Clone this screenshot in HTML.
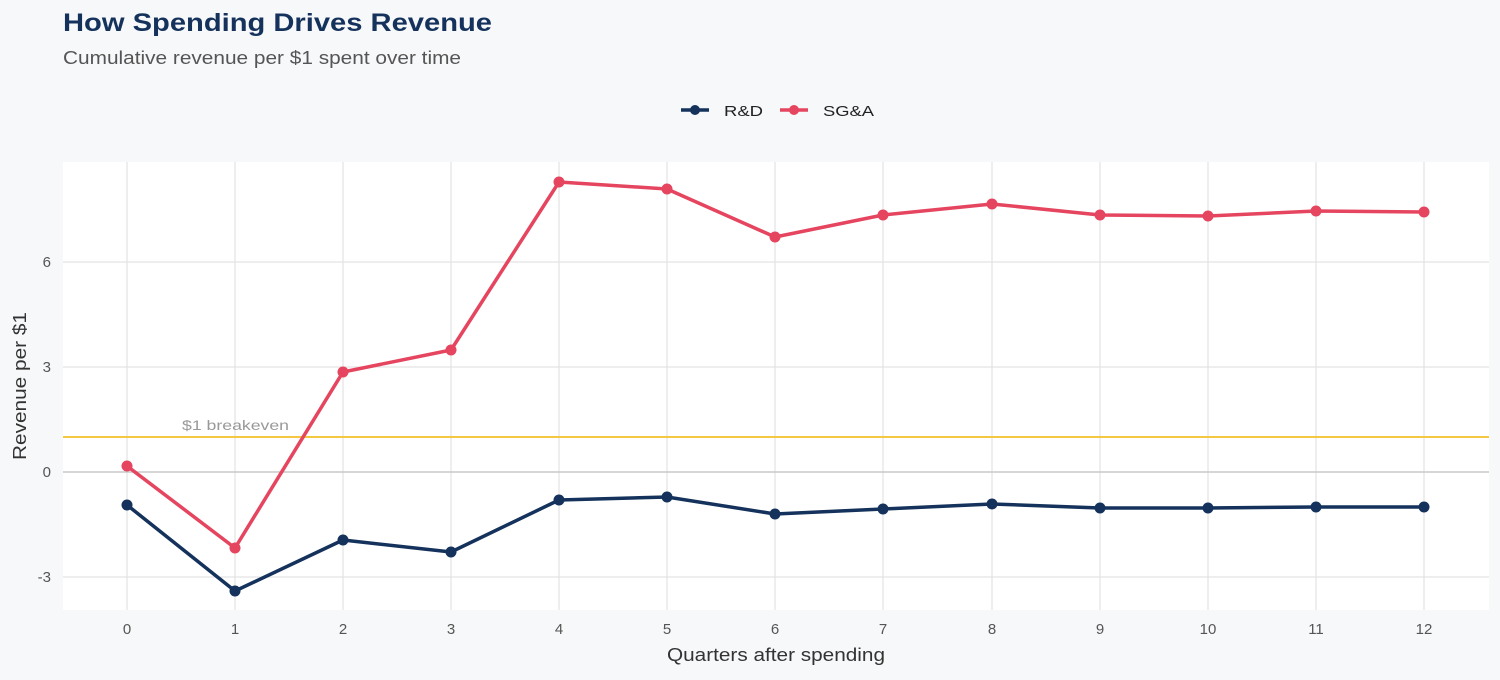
<!DOCTYPE html>
<html><head><meta charset="utf-8"><style>
body{margin:0;background:#f7f8fa;width:1500px;height:675px;overflow:hidden;font-family:"Liberation Sans",sans-serif}
</style></head><body>
<svg width="1500" height="675" xmlns="http://www.w3.org/2000/svg" font-family="Liberation Sans, sans-serif">
<rect width="1500" height="675" fill="#f7f8fa"/>
<text x="63" y="31" font-size="25" font-weight="bold" fill="#14325c" textLength="429" lengthAdjust="spacingAndGlyphs">How Spending Drives Revenue</text>
<text x="63" y="64" font-size="18" fill="#555" textLength="398" lengthAdjust="spacingAndGlyphs">Cumulative revenue per $1 spent over time</text>
<line x1="681" y1="110" x2="709" y2="110" stroke="#14325c" stroke-width="3.5"/><circle cx="695" cy="110" r="5" fill="#14325c"/>
<text x="724" y="116" font-size="15" fill="#222" textLength="39" lengthAdjust="spacingAndGlyphs">R&amp;D</text>
<line x1="780" y1="110" x2="808" y2="110" stroke="#e5455f" stroke-width="3.5"/><circle cx="794" cy="110" r="5" fill="#e5455f"/>
<text x="823" y="116" font-size="15" fill="#222" textLength="51" lengthAdjust="spacingAndGlyphs">SG&amp;A</text>
<rect x="63" y="162" width="1426" height="448" fill="#fff"/>
<g stroke="#e3e3e3" stroke-width="1.2">
<line x1="63" x2="1489" y1="262" y2="262"/><line x1="63" x2="1489" y1="367" y2="367"/><line x1="63" x2="1489" y1="577" y2="577"/>
<line x1="127" x2="127" y1="162" y2="610"/><line x1="235" x2="235" y1="162" y2="610"/><line x1="343" x2="343" y1="162" y2="610"/><line x1="451" x2="451" y1="162" y2="610"/><line x1="559" x2="559" y1="162" y2="610"/><line x1="667" x2="667" y1="162" y2="610"/><line x1="775" x2="775" y1="162" y2="610"/><line x1="883" x2="883" y1="162" y2="610"/><line x1="992" x2="992" y1="162" y2="610"/><line x1="1100" x2="1100" y1="162" y2="610"/><line x1="1208" x2="1208" y1="162" y2="610"/><line x1="1316" x2="1316" y1="162" y2="610"/><line x1="1424" x2="1424" y1="162" y2="610"/>
</g>
<line x1="63" x2="1489" y1="472" y2="472" stroke="#c8c8c8" stroke-width="1.5"/>
<line x1="63" x2="1489" y1="437" y2="437" stroke="#f5c842" stroke-width="2"/>
<text x="182" y="430" font-size="14" fill="#999" textLength="107" lengthAdjust="spacingAndGlyphs">$1 breakeven</text>
<polyline fill="none" stroke="#14325c" stroke-width="3.5" stroke-linejoin="round" points="127,505 235,591 343,540 451,552 559,500 667,497 775,514 883,509 992,504 1100,508 1208,508 1316,507 1424,507"/>
<g fill="#14325c"><circle cx="127" cy="505" r="5.5"/><circle cx="235" cy="591" r="5.5"/><circle cx="343" cy="540" r="5.5"/><circle cx="451" cy="552" r="5.5"/><circle cx="559" cy="500" r="5.5"/><circle cx="667" cy="497" r="5.5"/><circle cx="775" cy="514" r="5.5"/><circle cx="883" cy="509" r="5.5"/><circle cx="992" cy="504" r="5.5"/><circle cx="1100" cy="508" r="5.5"/><circle cx="1208" cy="508" r="5.5"/><circle cx="1316" cy="507" r="5.5"/><circle cx="1424" cy="507" r="5.5"/></g>
<polyline fill="none" stroke="#e5455f" stroke-width="3.5" stroke-linejoin="round" points="127,466 235,548 343,372 451,350 559,182 667,189 775,237 883,215 992,204 1100,215 1208,216 1316,211 1424,212"/>
<g fill="#e5455f"><circle cx="127" cy="466" r="5.5"/><circle cx="235" cy="548" r="5.5"/><circle cx="343" cy="372" r="5.5"/><circle cx="451" cy="350" r="5.5"/><circle cx="559" cy="182" r="5.5"/><circle cx="667" cy="189" r="5.5"/><circle cx="775" cy="237" r="5.5"/><circle cx="883" cy="215" r="5.5"/><circle cx="992" cy="204" r="5.5"/><circle cx="1100" cy="215" r="5.5"/><circle cx="1208" cy="216" r="5.5"/><circle cx="1316" cy="211" r="5.5"/><circle cx="1424" cy="212" r="5.5"/></g>
<g font-size="15" fill="#555" text-anchor="end"><text x="51" y="267">6</text><text x="51" y="372">3</text><text x="51" y="477">0</text><text x="51" y="582">-3</text></g>
<g font-size="15" fill="#555" text-anchor="middle"><text x="127" y="634">0</text><text x="235" y="634">1</text><text x="343" y="634">2</text><text x="451" y="634">3</text><text x="559" y="634">4</text><text x="667" y="634">5</text><text x="775" y="634">6</text><text x="883" y="634">7</text><text x="992" y="634">8</text><text x="1100" y="634">9</text><text x="1208" y="634">10</text><text x="1316" y="634">11</text><text x="1424" y="634">12</text></g>
<text x="776" y="661" font-size="18" fill="#333" text-anchor="middle" textLength="218" lengthAdjust="spacingAndGlyphs">Quarters after spending</text>
<text transform="translate(26,386) rotate(-90)" font-size="18" fill="#333" text-anchor="middle" textLength="148" lengthAdjust="spacingAndGlyphs">Revenue per $1</text>
</svg>
</body></html>
